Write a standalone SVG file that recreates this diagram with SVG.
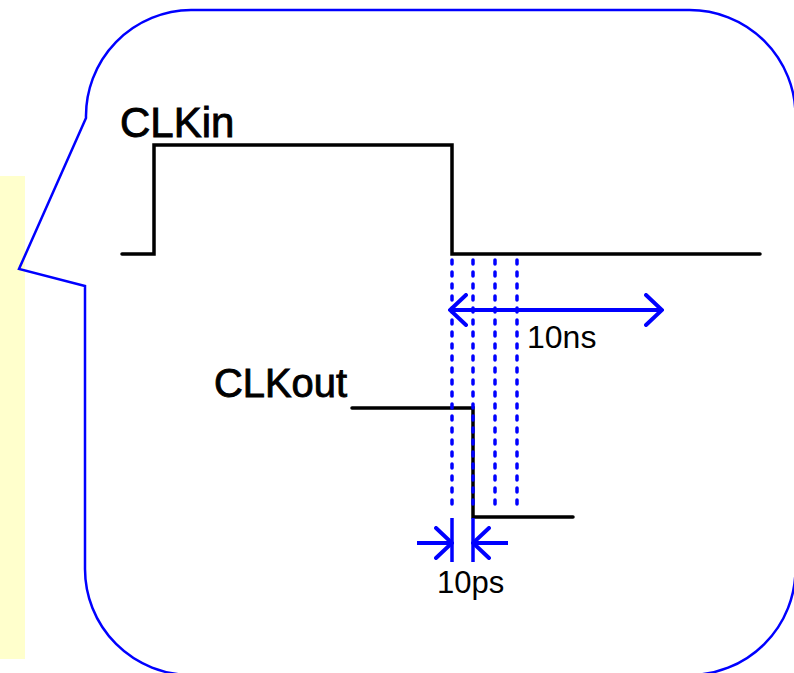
<svg xmlns="http://www.w3.org/2000/svg" width="794" height="673" viewBox="0 0 794 673">
  <style>
    .wave { fill: none; stroke: #000; stroke-width: 3.5; stroke-linejoin: miter; stroke-linecap: round; }
    .dot { fill: none; stroke: #0000ff; stroke-width: 3.5; stroke-dasharray: 4 8; stroke-linecap: round; }
    .solid { fill: none; stroke: #0000ff; stroke-width: 3.5; }
    .dim { fill: none; stroke: #0000ff; stroke-width: 4; }
    .label { font-family: "Liberation Sans", Arial, sans-serif; fill: #000; }
    .heavy { stroke: #000; stroke-width: 0.9; }
  </style>
  <defs>
    <marker id="chev" markerUnits="userSpaceOnUse" viewBox="0 0 20 34" markerWidth="20" markerHeight="34" refX="18" refY="17" orient="auto-start-reverse">
      <path d="M 2 2 L 18 17 L 2 32" fill="none" stroke="#0000ff" stroke-width="4" stroke-linecap="round"/>
    </marker>
  </defs>

  <rect id="sidebar" x="0" y="176" width="25" height="483" fill="#ffffcc"/>

  <g id="callout">
    <path d="M 86 118 L 19 269 L 85 286 L 85 569 A 106 106 0 0 0 191 675 L 689 675 A 106 106 0 0 0 795.5 569 L 795.5 116 A 106 106 0 0 0 689 10 L 191 10 A 106 106 0 0 0 86 118 Z" fill="none" stroke="#0000ff" stroke-width="2.5"/>
  </g>

  <g id="clkin">
    <polyline class="wave" points="122,254 154,254 154,145 452,145 452,254 760,254"/>
    <text class="label heavy" x="120" y="137" font-size="42">CLKin</text>
  </g>

  <g id="clkout">
    <polyline class="wave" points="352,408 473,408 473,517 573,517"/>
    <text class="label heavy" x="214" y="397" font-size="40" textLength="133" lengthAdjust="spacingAndGlyphs">CLKout</text>
  </g>

  <g id="connectors">
    <line class="dot" x1="452" y1="260" x2="452" y2="512"/>
    <line class="dot" x1="473" y1="260" x2="473" y2="512"/>
    <line class="dot" x1="495" y1="260" x2="495" y2="512"/>
    <line class="dot" x1="517" y1="260" x2="517" y2="512"/>
    <line class="solid" x1="452" y1="518" x2="452" y2="562"/>
    <line class="solid" x1="473" y1="518" x2="473" y2="562"/>
    <line class="dim" x1="450" y1="310" x2="662" y2="310" marker-start="url(#chev)" marker-end="url(#chev)"/>
    <line class="dim" x1="417" y1="543" x2="452" y2="543" marker-end="url(#chev)"/>
    <line class="dim" x1="508" y1="543" x2="473" y2="543" marker-end="url(#chev)"/>
  </g>

  <g id="label-10ns">
    <text class="label" x="527" y="348" font-size="32">10ns</text>
  </g>
  <g id="label-10ps">
    <text class="label" x="437" y="593" font-size="31">10ps</text>
  </g>
</svg>
